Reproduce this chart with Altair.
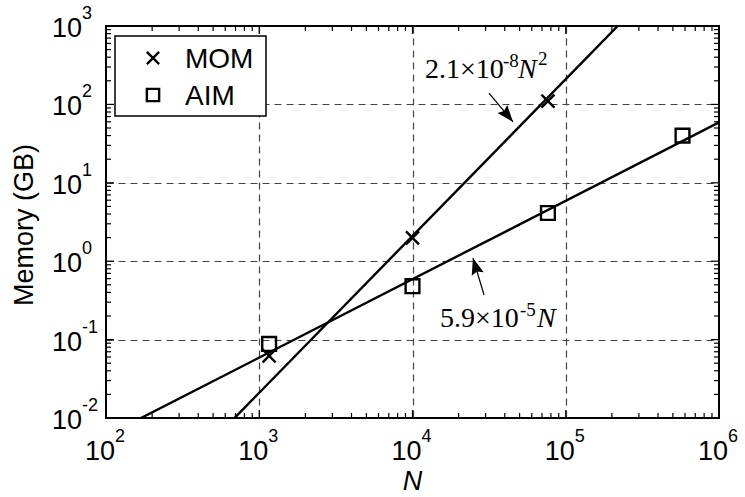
import altair as alt
import pandas as pd

# Measured memory use (GB) against number of unknowns N
mom_n = [1160, 10000, 76500]
mom_mem = [0.062, 1.98, 110]
aim_n = [1160, 10000, 76500, 578000]
aim_mem = [0.088, 0.48, 4.12, 40]

# Fitted scaling laws: memory = coef * N**power
mom_coef, mom_power = 2.1e-8, 2
aim_coef, aim_power = 5.9e-5, 1
fit_n = [1e2, 1e6]

x_exponents = [2, 3, 4, 5, 6]
y_exponents = [-2, -1, 0, 1, 2, 3]

W, H = 613, 392
SANS = "Liberation Sans"
SERIF = "Liberation Serif"

XS = alt.Scale(type="log", domain=[1e2, 1e6], nice=False)
YS = alt.Scale(type="log", domain=[1e-2, 1e3], nice=False)
GRID = dict(grid=True, gridDash=[7, 5], gridColor="#444444", gridWidth=1.2,
            labels=False, ticks=False, domain=False, title=None)
XAX = alt.Axis(values=[1e3, 1e4, 1e5], **GRID)
YAX = alt.Axis(values=[1e-1, 1e0, 1e1, 1e2], **GRID)


def xenc(f):
    return alt.X(f"{f}:Q", scale=XS, axis=XAX)


def yenc(f):
    return alt.Y(f"{f}:Q", scale=YS, axis=YAX)


mom = pd.DataFrame({"N": mom_n, "mem": mom_mem})
aim = pd.DataFrame({"N": aim_n, "mem": aim_mem})
fits = pd.DataFrame(
    [{"series": "MOM", "N": n, "mem": mom_coef * n ** mom_power} for n in fit_n]
    + [{"series": "AIM", "N": n, "mem": aim_coef * n ** aim_power} for n in fit_n]
)

XMARK = "M-1,-1L1,1M1,-1L-1,1"
HEAD = "M0,0L0.75,2L0,1.7L-0.75,2Z"

layers = []

# fit lines
layers.append(
    alt.Chart(fits).mark_line(color="black", strokeWidth=2.4, clip=True)
    .encode(x=xenc("N"), y=yenc("mem"), detail="series:N")
)

# measurements
layers.append(
    alt.Chart(mom).mark_point(shape=XMARK, size=170, filled=False, color="black",
                              strokeWidth=2.4, opacity=1)
    .encode(x=xenc("N"), y=yenc("mem"))
)
layers.append(
    alt.Chart(aim).mark_point(shape="square", size=190, filled=False, color="black",
                              strokeWidth=2.4, opacity=1)
    .encode(x=xenc("N"), y=yenc("mem"))
)

# inward ticks on all four sides
xmaj = [10.0 ** e for e in x_exponents]
xmin = [m * 10.0 ** e for e in x_exponents[:-1] for m in range(2, 10)]
ymaj = [10.0 ** e for e in y_exponents]
ymin = [m * 10.0 ** e for e in y_exponents[:-1] for m in range(2, 10)]


def xticks(vals, length):
    d = pd.DataFrame({"v": vals})
    base = alt.Chart(d).mark_rule(color="black", strokeWidth=1.2)
    return [
        base.encode(x=xenc("v"), y=alt.value(H), y2=alt.value(H - length)),
        base.encode(x=xenc("v"), y=alt.value(0), y2=alt.value(length)),
    ]


def yticks(vals, length):
    d = pd.DataFrame({"v": vals})
    base = alt.Chart(d).mark_rule(color="black", strokeWidth=1.2)
    return [
        base.encode(y=yenc("v"), x=alt.value(0), x2=alt.value(length)),
        base.encode(y=yenc("v"), x=alt.value(W), x2=alt.value(W - length)),
    ]


layers += xticks(xmaj, 8) + xticks(xmin, 5) + yticks(ymaj, 8) + yticks(ymin, 5)

# tick labels written as 10 with a raised exponent
xl = pd.DataFrame({"v": [10.0 ** e for e in x_exponents],
                   "e": [str(e) for e in x_exponents]})
layers.append(
    alt.Chart(xl).mark_text(text="10", font=SANS, fontSize=27, align="right",
                            baseline="alphabetic", dx=9)
    .encode(x=xenc("v"), y=alt.value(H + 42))
)
layers.append(
    alt.Chart(xl).mark_text(font=SANS, fontSize=18, align="left",
                            baseline="alphabetic", dx=9)
    .encode(x=xenc("v"), y=alt.value(H + 24), text="e:N")
)
yl = pd.DataFrame({"v": [10.0 ** e for e in y_exponents],
                   "e": [str(e) for e in y_exponents]})
layers.append(
    alt.Chart(yl).mark_text(text="10", font=SANS, fontSize=27, align="right",
                            baseline="alphabetic", dy=11)
    .encode(y=yenc("v"), x=alt.value(-24))
)
layers.append(
    alt.Chart(yl).mark_text(font=SANS, fontSize=18, align="left",
                            baseline="alphabetic", dy=-7)
    .encode(y=yenc("v"), x=alt.value(-24), text="e:N")
)

# axis titles
one = pd.DataFrame({"k": [0]})
layers.append(
    alt.Chart(one).mark_text(text="Memory (GB)", font=SANS, fontSize=27, angle=270,
                             align="center", baseline="alphabetic")
    .encode(x=alt.value(-73), y=alt.value(199))
)
layers.append(
    alt.Chart(one).mark_text(text="N", font=SANS, fontSize=27, fontStyle="italic",
                             align="center", baseline="alphabetic")
    .encode(x=alt.value(W / 2), y=alt.value(H + 72))
)

# annotations: fitted formulas with arrows to their lines
arrows = pd.DataFrame({
    "x1": [31550, 29300], "y1": [139.6, 0.371],
    "x2": [45300, 24800], "y2": [59.7, 1.10],
    "ang": [140.4, 343.4],
})
layers.append(
    alt.Chart(arrows).mark_rule(color="black", strokeWidth=1.2)
    .encode(x=xenc("x1"), y=yenc("y1"), x2="x2:Q", y2="y2:Q")
)
layers.append(
    alt.Chart(arrows).mark_point(shape=HEAD, size=280, filled=True, color="black",
                                 opacity=1)
    .encode(x=xenc("x2"), y=yenc("y2"), angle=alt.Angle("ang:Q", scale=None))
)

labels = pd.DataFrame({
    "x": [12066, 12066, 12066, 12066, 15115, 15115, 15115],
    "y": [217.1, 217.1, 217.1, 217.1, 0.1448, 0.1448, 0.1448],
    "t": ["2.1×10", "-8", "N", "2", "5.9×10", "-5", "N"],
    "dx": [0, 78, 93, 113, 0, 80, 97],
    "dy": [0, -11, 0, -13, 0, -11, 0],
    "size": [28, 19, 28, 19, 28, 19, 28],
    "style": ["normal", "normal", "italic", "normal", "normal", "normal", "italic"],
})
for _, r in labels.iterrows():
    layers.append(
        alt.Chart(pd.DataFrame([r])).mark_text(
            text=r["t"], font=SERIF, fontSize=int(r["size"]), fontStyle=r["style"],
            align="left", baseline="alphabetic", dx=int(r["dx"]), dy=int(r["dy"]))
        .encode(x=xenc("x"), y=yenc("y"))
    )

# legend box
layers.append(
    alt.Chart(one).mark_rect(fill="white", stroke="black", strokeWidth=1.5)
    .encode(x=alt.value(9), x2=alt.value(160), y=alt.value(10), y2=alt.value(90))
)
layers.append(
    alt.Chart(one).mark_point(shape=XMARK, size=150, filled=False, color="black",
                              strokeWidth=2.4, opacity=1)
    .encode(x=alt.value(47), y=alt.value(32))
)
layers.append(
    alt.Chart(one).mark_point(shape="square", size=150, filled=False, color="black",
                              strokeWidth=2.4, opacity=1)
    .encode(x=alt.value(47), y=alt.value(69))
)
for txt, yy in [("MOM", 42), ("AIM", 79)]:
    layers.append(
        alt.Chart(one).mark_text(text=txt, font=SANS, fontSize=28, align="left",
                                 baseline="alphabetic")
        .encode(x=alt.value(79), y=alt.value(yy))
    )

chart = (
    alt.layer(*layers)
    .properties(width=W, height=H, autosize=alt.AutoSizeParams(type="none"),
                padding={"left": 106, "top": 26, "right": 26, "bottom": 79},
                background="white")
    .configure_view(stroke="black", strokeWidth=2)
)

chart.save("out.html", embed_options={"renderer": "svg", "actions": False})
